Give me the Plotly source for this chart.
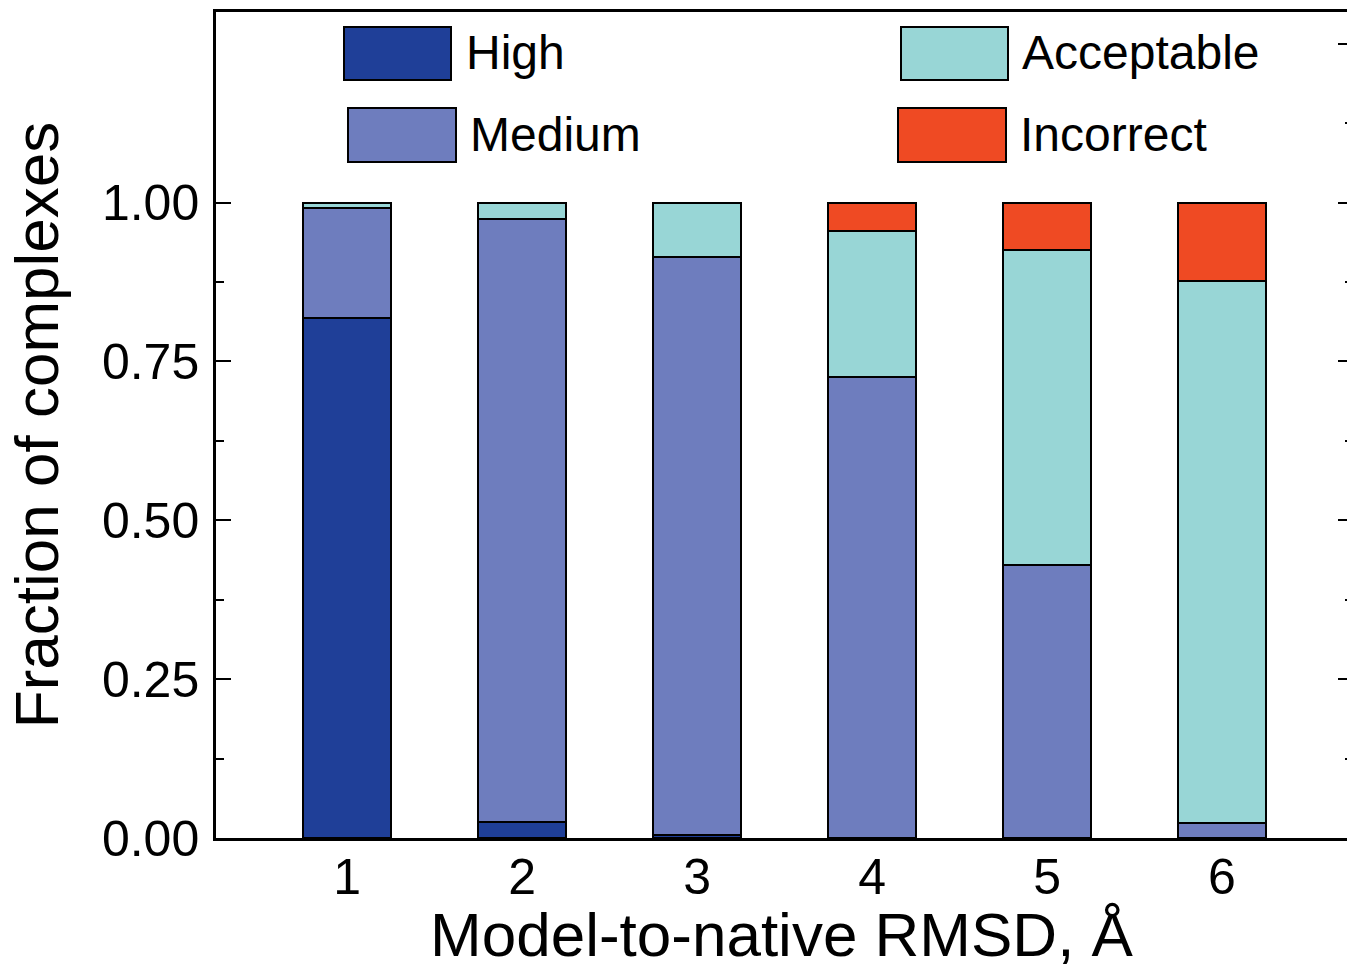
import plotly.graph_objects as go

# Fraction of docked complexes in each quality class, per RMSD bin
rmsd_bins = [1, 2, 3, 4, 5, 6]
tick_labels = ["1", "2", "3", "4", "5", "6"]
high = [0.818, 0.025, 0.005, 0.0, 0.0, 0.0]
medium = [0.174, 0.950, 0.910, 0.726, 0.429, 0.024]
acceptable = [0.008, 0.025, 0.085, 0.230, 0.497, 0.853]
incorrect = [0.0, 0.0, 0.0, 0.044, 0.074, 0.123]

series = [
    ("High", high, "#1F3F98"),
    ("Medium", medium, "#6E7DBE"),
    ("Acceptable", acceptable, "#98D6D6"),
    ("Incorrect", incorrect, "#EF4A23"),
]

FONT = "Liberation Sans, Arial, sans-serif"

fig = go.Figure()
for name, vals, color in series:
    fig.add_trace(go.Bar(
        x=rmsd_bins, y=vals, name=name, width=0.5,
        marker=dict(color=color, line=dict(color="black", width=2)),
        showlegend=False,
    ))

# placeholder trace so the right-hand tick axis is rendered
fig.add_trace(go.Scatter(x=[None], y=[None], yaxis="y2", showlegend=False, hoverinfo="skip"))

W, H = 1347, 969
L, R, T, B = 216, 0, 12, 131
pw, ph = W - L - R, H - T - B


def px(x):
    return (x - L) / pw


def py(y):
    return (H - B - y) / ph


# legend: two columns of large swatches with labels
legend_items = [
    ("High", "#1F3F98", 344, 451, 27, 80, 464),
    ("Medium", "#6E7DBE", 348, 456, 108, 162, 468),
    ("Acceptable", "#98D6D6", 901, 1008, 27, 80, 1020),
    ("Incorrect", "#EF4A23", 898, 1006, 108, 162, 1018),
]
shapes = []
annotations = []
for label, color, x0, x1, y0, y1, tx in legend_items:
    shapes.append(dict(type="rect", xref="paper", yref="paper",
                       x0=px(x0), x1=px(x1), y0=py(y1), y1=py(y0),
                       fillcolor=color, line=dict(color="black", width=2), layer="above"))
    annotations.append(dict(text=label, xref="paper", yref="paper",
                            x=px(tx), y=py((y0 + y1) / 2 - 1), xanchor="left", yanchor="middle",
                            showarrow=False, font=dict(family=FONT, size=48, color="black")))

fig.update_layout(
    width=W, height=H,
    margin=dict(l=L, r=R, t=T, b=B, pad=0),
    paper_bgcolor="white", plot_bgcolor="white",
    barmode="stack", bargap=0,
    font=dict(family=FONT, color="black"),
    shapes=shapes, annotations=annotations,
    xaxis=dict(
        range=[0.25, 6 + (W - 1222) / 175],
        tickvals=rmsd_bins, ticktext=tick_labels, ticks="",
        tickfont=dict(size=50), ticklabelstandoff=-7,
        showline=True, linecolor="black", linewidth=2.5, mirror=True,
        showgrid=False, zeroline=False,
        title=dict(text="Model-to-native RMSD, Å", font=dict(size=62), standoff=14),
    ),
    yaxis=dict(
        range=[0, 1.3],
        tickvals=[0, 0.25, 0.5, 0.75, 1.0],
        ticktext=["0.00", "0.25", "0.50", "0.75", "1.00"],
        ticks="inside", ticklen=15, tickwidth=2, tickcolor="black",
        minor=dict(tickvals=[0.125, 0.375, 0.625, 0.875], ticks="inside",
                   ticklen=8, tickwidth=2, tickcolor="black"),
        tickfont=dict(size=50), ticklabelstandoff=4,
        showline=True, linecolor="black", linewidth=2.5,
        showgrid=False, zeroline=False,
        title=dict(text="Fraction of complexes", font=dict(size=62), standoff=24),
    ),
    yaxis2=dict(
        range=[0, 1.3], overlaying="y", side="right", anchor="x",
        tickvals=[0, 0.25, 0.5, 0.75, 1.0, 1.25],
        ticks="inside", ticklen=9, tickwidth=2, tickcolor="black",
        minor=dict(tickvals=[0.125, 0.375, 0.625, 0.875, 1.125], ticks="inside",
                   ticklen=2, tickwidth=2, tickcolor="black"),
        showticklabels=False, showline=False, showgrid=False, zeroline=False,
    ),
)

fig.write_html("out.html")
